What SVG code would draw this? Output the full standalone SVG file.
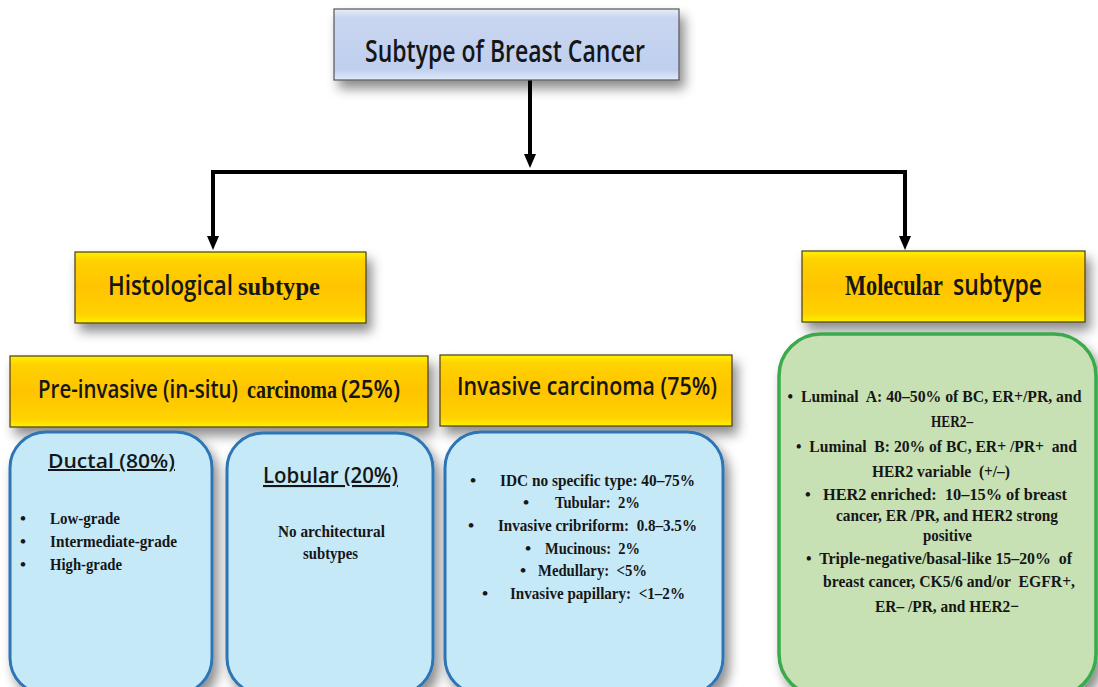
<svg xmlns="http://www.w3.org/2000/svg" width="1098" height="687" viewBox="0 0 1098 687">
<style>
text{white-space:pre}
.sans{font-family:"Open Sans","Liberation Sans",sans-serif;font-weight:600;fill:#161616}
.serif{font-family:"Liberation Serif","Times New Roman",serif;font-weight:bold;fill:#161616}
.gold{fill:url(#goldG);stroke:#4a3d1a;stroke-width:1.2}
.blue{fill:#C6E9F8;stroke:#2E74B5;stroke-width:3}
.green{fill:#C7E1B5;stroke:#3BAA4C;stroke-width:3.5}
.conn{stroke:#000;stroke-width:4;fill:none}
</style>
<defs>
<linearGradient id="goldG" x1="0" y1="0" x2="0" y2="1">
<stop offset="0" stop-color="#FFF200"/>
<stop offset="0.12" stop-color="#FFD200"/>
<stop offset="0.5" stop-color="#FFC400"/>
<stop offset="0.88" stop-color="#FFD200"/>
<stop offset="1" stop-color="#FFF000"/>
</linearGradient>
<linearGradient id="blueG" x1="0" y1="0" x2="0" y2="1">
<stop offset="0" stop-color="#E8EEFA"/>
<stop offset="0.12" stop-color="#C9D6F0"/>
<stop offset="0.85" stop-color="#BFCFEE"/>
<stop offset="1" stop-color="#E2EAF8"/>
</linearGradient>
<filter id="sh" x="-10%" y="-20%" width="125%" height="150%">
<feDropShadow dx="5" dy="8" stdDeviation="6" flood-color="#000" flood-opacity="0.45"/>
</filter>
<marker id="ah" viewBox="0 0 14 12" refX="0" refY="6" markerWidth="14" markerHeight="12" markerUnits="userSpaceOnUse" orient="auto">
<path d="M0,0 L14,6 L0,12 z" fill="#000"/>
</marker>
</defs>
<rect width="1098" height="687" fill="#fff"/>

<g id="connectors">
<path class="conn" d="M530,80 V154" marker-end="url(#ah)"/>
<path class="conn" d="M213,172 H905"/>
<path class="conn" d="M213,170 V236" marker-end="url(#ah)"/>
<path class="conn" d="M905,170 V236" marker-end="url(#ah)"/>
</g>

<g id="title">
<rect x="334" y="9" width="345" height="71" fill="url(#blueG)" stroke="#555" stroke-width="1.2" filter="url(#sh)"/>
<text class="sans" transform="translate(365,62) scale(0.8,1)" font-size="30" textLength="350" lengthAdjust="spacingAndGlyphs">Subtype of Breast Cancer</text>
</g>

<g id="histological">
<rect class="gold" x="75" y="252" width="291" height="71" filter="url(#sh)"/>
<text class="sans" transform="translate(108,295) scale(0.85,1)" font-size="27" textLength="147" lengthAdjust="spacingAndGlyphs">Histological</text>
<text class="serif" x="238" y="295" font-size="25" textLength="82" lengthAdjust="spacingAndGlyphs">subtype</text>
</g>

<g id="molecular">
<rect class="gold" x="802" y="251" width="283" height="71" filter="url(#sh)"/>
<text class="serif" transform="translate(845,295) scale(0.77,1)" font-size="29" textLength="127" lengthAdjust="spacingAndGlyphs">Molecular</text>
<text class="sans" transform="translate(953,295) scale(0.84,1)" font-size="28" textLength="106" lengthAdjust="spacingAndGlyphs">subtype</text>
</g>

<g id="preinvasive">
<rect class="gold" x="10" y="356" width="418" height="71" filter="url(#sh)"/>
<text class="sans" transform="translate(38,398) scale(0.8,1)" font-size="26" textLength="250" lengthAdjust="spacingAndGlyphs">Pre-invasive (in-situ)</text>
<text class="serif" transform="translate(247,398) scale(0.8,1)" font-size="25" textLength="112.5" lengthAdjust="spacingAndGlyphs">carcinoma</text>
<text class="sans" transform="translate(341,398) scale(0.87,1)" font-size="26" textLength="67.8" lengthAdjust="spacingAndGlyphs">(25%)</text>
</g>

<g id="invasive">
<rect class="gold" x="440" y="355" width="292" height="71" filter="url(#sh)"/>
<text class="sans" transform="translate(457,395) scale(0.85,1)" font-size="25" textLength="306" lengthAdjust="spacingAndGlyphs">Invasive carcinoma (75%)</text>
</g>

<g id="ductal">
<rect class="blue" x="10" y="432" width="202" height="262" rx="36" ry="36" filter="url(#sh)"/>
<text class="sans" x="48" y="468" font-size="20" font-weight="500" text-decoration="underline" textLength="127" lengthAdjust="spacingAndGlyphs">Ductal (80%)</text>
<g class="serif" font-size="17">
<text x="20" y="524">•</text><text x="50" y="524" textLength="70" lengthAdjust="spacingAndGlyphs">Low-grade</text>
<text x="20" y="547">•</text><text x="50" y="547" textLength="127" lengthAdjust="spacingAndGlyphs">Intermediate-grade</text>
<text x="20" y="570">•</text><text x="50" y="570" textLength="72" lengthAdjust="spacingAndGlyphs">High-grade</text>
</g>
</g>

<g id="lobular">
<rect class="blue" x="227" y="433" width="206" height="261" rx="36" ry="36" filter="url(#sh)"/>
<text class="sans" x="263" y="483" font-size="21" font-weight="500" text-decoration="underline" textLength="135" lengthAdjust="spacingAndGlyphs">Lobular (20%)</text>
<g class="serif" font-size="17.5">
<text x="278" y="537" textLength="107" lengthAdjust="spacingAndGlyphs">No architectural</text>
<text x="303" y="559" textLength="55" lengthAdjust="spacingAndGlyphs">subtypes</text>
</g>
</g>

<g id="invasive-types">
<rect class="blue" x="445" y="432" width="278" height="262" rx="36" ry="36" filter="url(#sh)"/>
<g class="serif" font-size="17.5">
<text x="470" y="486">•</text><text x="500" y="486" textLength="195" lengthAdjust="spacingAndGlyphs">IDC no specific type: 40–75%</text>
<text x="523" y="508">•</text><text x="555" y="508" textLength="85" lengthAdjust="spacingAndGlyphs">Tubular:  2%</text>
<text x="468" y="531">•</text><text x="498" y="531" textLength="199" lengthAdjust="spacingAndGlyphs">Invasive cribriform:  0.8–3.5%</text>
<text x="525" y="554">•</text><text x="545" y="554" textLength="95" lengthAdjust="spacingAndGlyphs">Mucinous:  2%</text>
<text x="520" y="576">•</text><text x="538" y="576" textLength="109" lengthAdjust="spacingAndGlyphs">Medullary:  &lt;5%</text>
<text x="482" y="599">•</text><text x="510" y="599" textLength="175" lengthAdjust="spacingAndGlyphs">Invasive papillary:  &lt;1–2%</text>
</g>
</g>

<g id="molecular-types">
<rect class="green" x="779" y="334" width="317" height="362" rx="42" ry="42" filter="url(#sh)"/>
<g class="serif" font-size="17.5" text-anchor="middle">
<text transform="translate(934.5,402) scale(0.9,1)" textLength="326.7" lengthAdjust="spacingAndGlyphs">•  Luminal  A: 40–50% of BC, ER+/PR, and</text>
<text transform="translate(952,427) scale(0.9,1)" textLength="46.7" lengthAdjust="spacingAndGlyphs">HER2–</text>
<text transform="translate(936.5,452) scale(0.9,1)" textLength="312.2" lengthAdjust="spacingAndGlyphs">•  Luminal  B: 20% of BC, ER+ /PR+  and</text>
<text transform="translate(941,477) scale(0.9,1)" textLength="153.3" lengthAdjust="spacingAndGlyphs">HER2 variable  (+/–)</text>
<text transform="translate(936,500) scale(0.9,1)" textLength="291.1" lengthAdjust="spacingAndGlyphs">•   HER2 enriched:  10–15% of breast</text>
<text transform="translate(947,521) scale(0.9,1)" textLength="246.7" lengthAdjust="spacingAndGlyphs">cancer, ER /PR, and HER2 strong</text>
<text transform="translate(947.5,541) scale(0.9,1)" textLength="54.4" lengthAdjust="spacingAndGlyphs">positive</text>
<text transform="translate(939,564) scale(0.9,1)" textLength="295.6" lengthAdjust="spacingAndGlyphs">•  Triple-negative/basal-like 15–20%  of</text>
<text transform="translate(949,587) scale(0.9,1)" textLength="280" lengthAdjust="spacingAndGlyphs">breast cancer, CK5/6 and/or  EGFR+,</text>
<text transform="translate(947,612) scale(0.9,1)" textLength="160" lengthAdjust="spacingAndGlyphs">ER– /PR, and HER2−</text>
</g>
</g>
</svg>
